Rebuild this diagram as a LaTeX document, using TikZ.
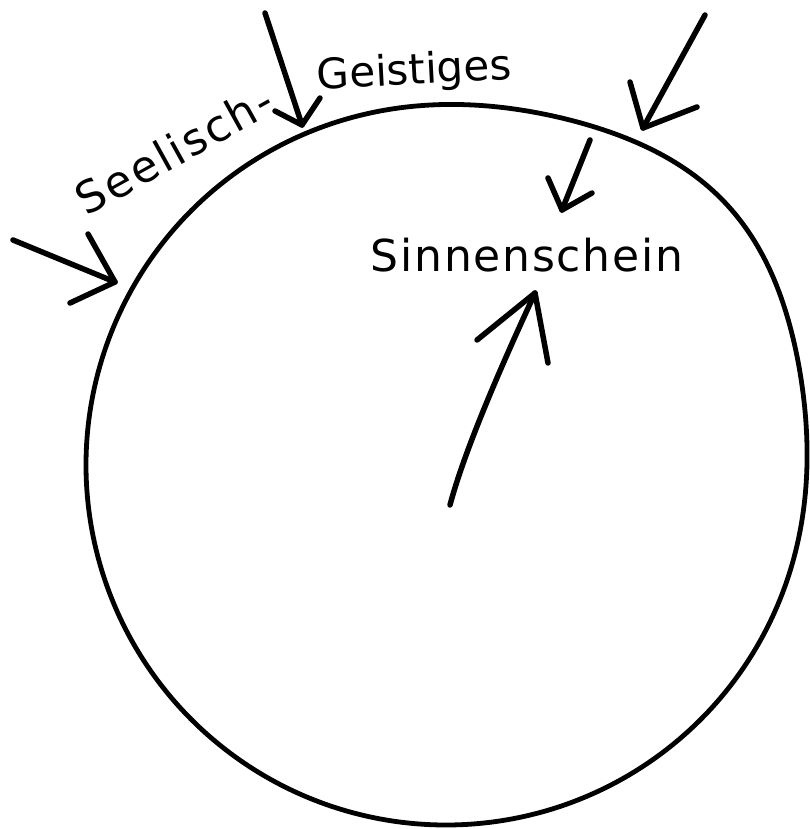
\documentclass[tikz,border=0pt]{standalone}
\usepackage{fontspec}
\setmainfont{DejaVu Sans}
\newfontfamily\seelfont{DejaVu Sans}[LetterSpace=6]
\newfontfamily\sinnfont{DejaVu Sans}[LetterSpace=4]
\begin{document}
\begin{tikzpicture}[x=1pt,y=-1pt,
  rim/.style={draw=black, line width=4.8pt, line join=round},
  handtext/.style={font=\fontsize{42}{50}\selectfont, inner sep=0pt, anchor=base},
  handarrow/.style={draw=black, line width=5.5pt, line cap=round, line join=round}]
\useasboundingbox (0,0) rectangle (809,829);
% the hand-drawn circle (slightly bulging at the upper right)
\draw[rim] plot[smooth cycle, domain=-137:221, samples=180, variable=\t]
  ({446+(360+23*(cos((\t-43)/2))^44)*cos(\t)},
   {465-(360+23*(cos((\t-43)/2))^44)*sin(\t)});
% texts
\node[handtext, font=\seelfont\fontsize{44}{52}\selectfont, rotate=29] (seel) at (182,164) {Seelisch-};
\node[handtext, rotate=3] (geist) at (415,84) {Geistiges};
\node[handtext, font=\sinnfont\fontsize{44}{52}\selectfont] (sinn) at (527,271) {Sinnenschein};
% arrow 1: left
\coordinate (a1s) at (13,240); \coordinate (a1t) at (115,282);
\coordinate (a1l) at (88,234); \coordinate (a1r) at (70,303);
% arrow 2: top middle
\coordinate (a2s) at (265,13); \coordinate (a2t) at (302,125);
\coordinate (a2l) at (275,111); \coordinate (a2r) at (320,98);
% arrow 3: top right
\coordinate (a3s) at (705,15); \coordinate (a3t) at (643,128);
\coordinate (a3l) at (630,82); \coordinate (a3r) at (697,107);
% arrow 4: small, below rim
\coordinate (a4s) at (590,140); \coordinate (a4t) at (562,210);
\coordinate (a4l) at (548,178); \coordinate (a4r) at (592,193);
% arrow 5: interior, pointing up to the text
\coordinate (a5s) at (450,505); \coordinate (a5t) at (535,293);
\coordinate (a5l) at (477,340); \coordinate (a5r) at (548,363);
\foreach \a in {a1,a2,a3,a4}{
  \draw[handarrow] (\a s) -- (\a t);
  \draw[handarrow] (\a l) -- (\a t) -- (\a r);
}
\draw[handarrow] (a5s) .. controls (462,460) and (490,390) .. (a5t);
\draw[handarrow] (a5l) -- (a5t) -- (a5r);
\end{tikzpicture}
\end{document}
